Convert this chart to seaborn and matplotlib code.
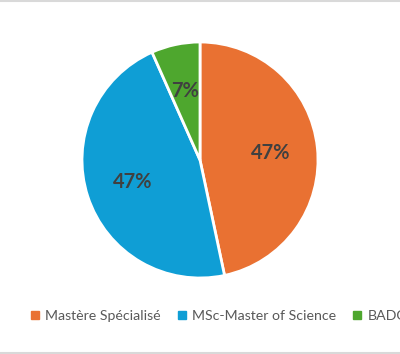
import matplotlib
matplotlib.use("Agg")
import matplotlib.pyplot as plt
import seaborn as sns
from matplotlib.lines import Line2D

sns.set_theme(style="white")
plt.rcParams['font.family'] = ['Lato', 'DejaVu Sans']

categories = ["Mastère Spécialisé", "MSc-Master of Science", "BADGE"]
counts = [7, 7, 1]
colors = ["#E97132", "#0F9ED5", "#4EA72E"]

W, H = 400, 354
fig = plt.figure(figsize=(W / 100, H / 100), dpi=100)
fig.patch.set_facecolor("white")

cx, cy, r = 200, 160, 118
ax = fig.add_axes([(cx - r) / W, (H - cy - r) / H, 2 * r / W, 2 * r / H])
wedges, texts, autotexts = ax.pie(
    counts, colors=colors, startangle=90, counterclock=False,
    autopct=lambda p: f"{p:.0f}%", pctdistance=0.6, radius=1,
    wedgeprops=dict(edgecolor="white", linewidth=2),
    textprops=dict(color="#404040", fontsize=14.5, fontweight="bold"))
ax.set_xlim(-1, 1)
ax.set_ylim(-1, 1)
ax.set_aspect("equal")
ax.axis("off")

handles = [Line2D([0], [0], marker="s", linestyle="none", markersize=6,
                  markerfacecolor=c, markeredgecolor=c) for c in colors]
fig.legend(handles, categories, loc="center left", ncol=3,
           bbox_to_anchor=(24 / W, (H - 316) / H), frameon=False,
           fontsize=10.2, labelcolor="#595959", handlelength=0.8,
           handletextpad=0.3, columnspacing=1.1, borderaxespad=0)

# thin grey frame lines at top and bottom
fig.add_artist(Line2D([0, 1], [1 - 1 / H, 1 - 1 / H], transform=fig.transFigure,
                      color="#D9D9D9", linewidth=1.5))
fig.add_artist(Line2D([0, 1], [1.5 / H, 1.5 / H], transform=fig.transFigure,
                      color="#D9D9D9", linewidth=1.5))

fig.savefig("out.png", dpi=100, facecolor="white")
